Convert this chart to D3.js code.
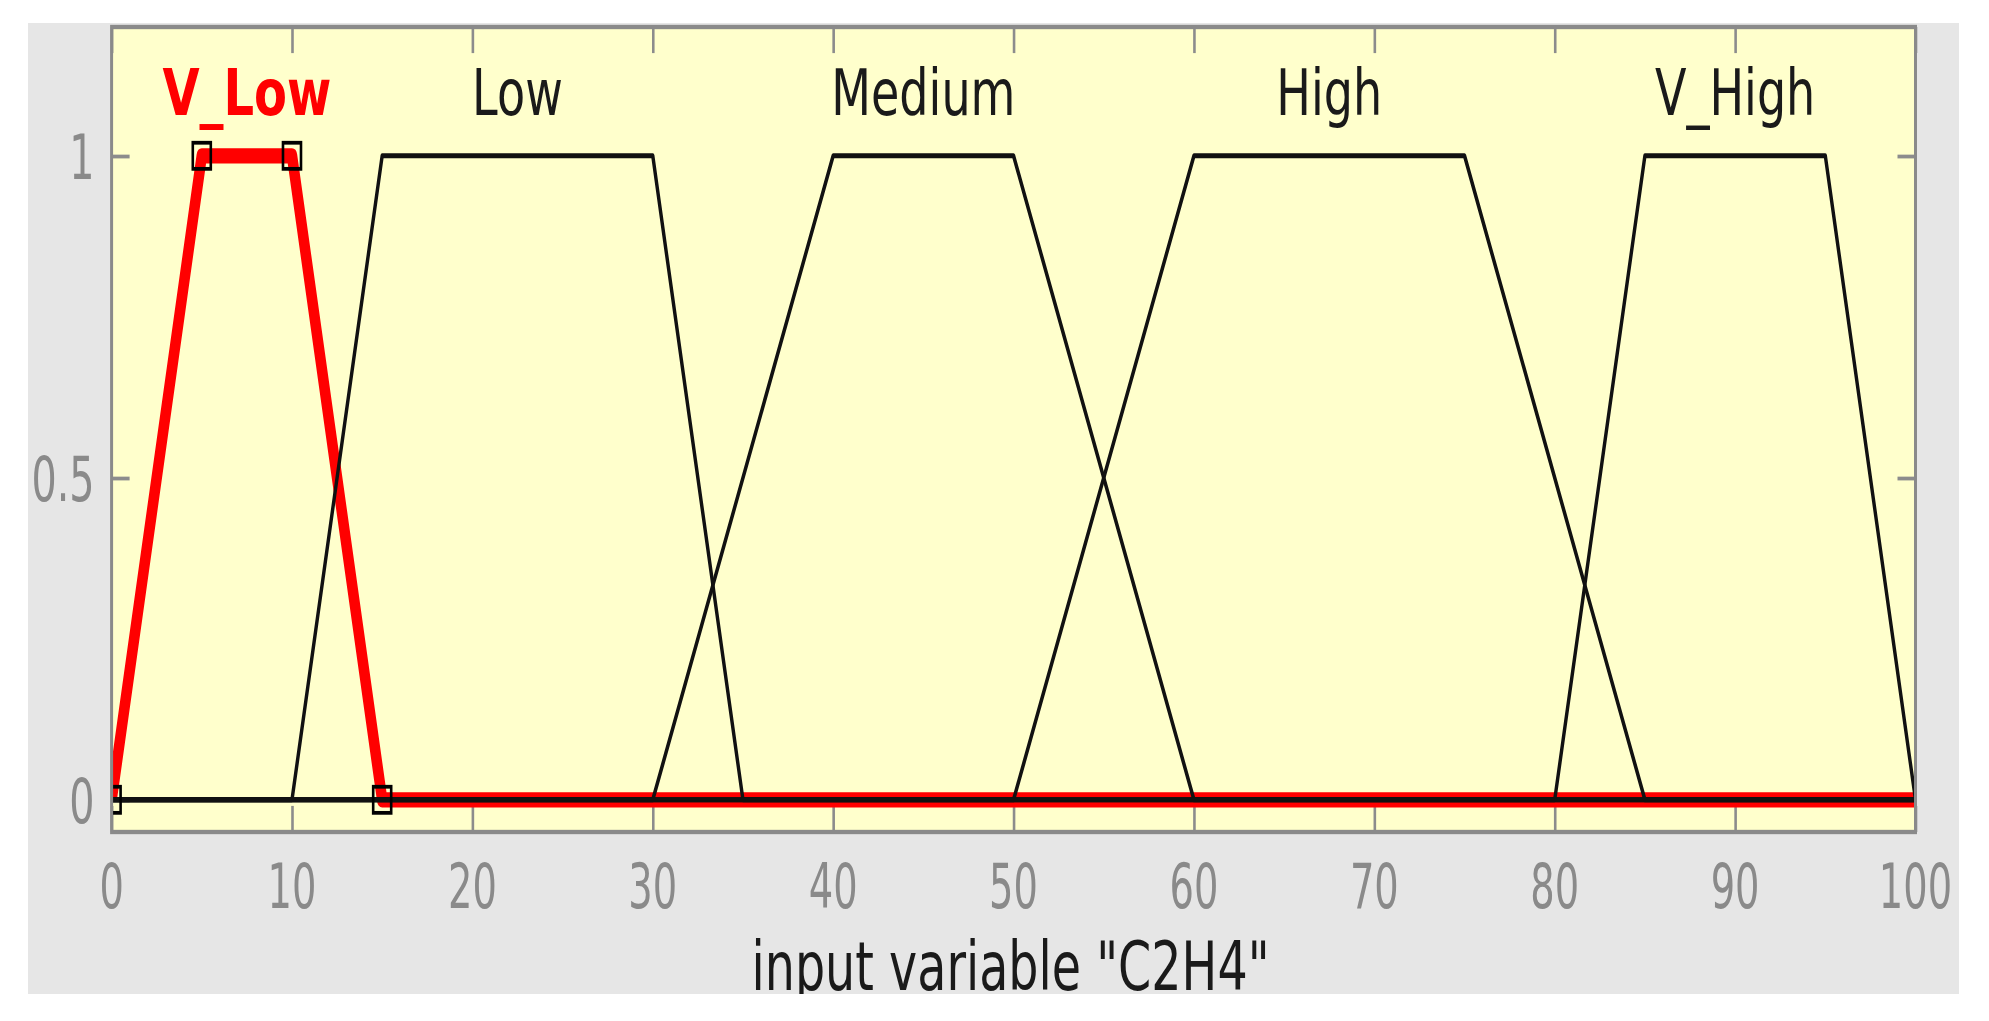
<!DOCTYPE html>
<html><head><meta charset="utf-8">
<script src="https://cdn.jsdelivr.net/npm/d3@7"></script>
<style>html,body{margin:0;padding:0;background:#fff;} svg{display:block;}</style>
</head><body>
<svg id="chart" width="1989" height="1021"></svg>
<script>
// ---- data ----
const mfNames = ["V_Low", "Low", "Medium", "High", "V_High"];
const mfParams = [[0, 5, 10, 15], [10, 15, 30, 35], [30, 40, 50, 60], [50, 60, 75, 85], [80, 85, 95, 100]];
const selectedMF = "V_Low";
const xTicks = [0, 10, 20, 30, 40, 50, 60, 70, 80, 90, 100];
const xTickLabels = ["0", "10", "20", "30", "40", "50", "60", "70", "80", "90", "100"];
const yTicks = [0, 0.5, 1];
const yTickLabels = ["0", "0.5", "1"];
const xDomain = [0, 100];
const yDomain = [-0.05, 1.2];
const xLabel = 'input variable "C2H4"';

// ---- layout ----
const W = 1989, H = 1021;
const S = 1.45; // vertical stretch of the original picture
const plot = {left: 111.6, right: 1915.5, top: 27, bottom: 832};
const panel = {x: 28, y: 23, w: 1931, h: 971};

const svg = d3.select("#chart");
const defs = svg.append("defs");
defs.append("clipPath").attr("id", "panelClip").append("rect")
  .attr("x", panel.x).attr("y", panel.y).attr("width", panel.w).attr("height", panel.h);

svg.append("rect").attr("width", W).attr("height", H).attr("fill", "#ffffff");
svg.append("rect").attr("x", panel.x).attr("y", panel.y).attr("width", panel.w).attr("height", panel.h).attr("fill", "#e6e6e6");

const x = d3.scaleLinear().domain(xDomain).range([plot.left, plot.right]);
const y = d3.scaleLinear().domain(yDomain).range([plot.bottom, plot.top]);          // screen units
const yi = d3.scaleLinear().domain(yDomain).range([plot.bottom / S, plot.top / S]); // inside stretched group

const g = svg.append("g").attr("transform", `scale(1,${S})`);
g.append("clipPath").attr("id", "plotClip").append("rect")
  .attr("x", plot.left).attr("y", plot.top / S)
  .attr("width", plot.right - plot.left).attr("height", (plot.bottom - plot.top) / S);

g.append("rect")
  .attr("x", plot.left).attr("y", plot.top / S)
  .attr("width", plot.right - plot.left).attr("height", (plot.bottom - plot.top) / S)
  .attr("fill", "#ffffcc");

// ticks (inward, box on)
const tickLen = 18;
function styleAxis(sel) {
  sel.select(".domain").remove();
  sel.selectAll(".tick line").attr("stroke", "#8c8c8c").attr("stroke-width", 2.6);
  sel.selectAll(".tick text").remove();
}
g.append("g").attr("transform", `translate(0,${plot.bottom / S})`)
  .call(d3.axisBottom(x).tickValues(xTicks).tickSize(-tickLen).tickFormat("")).call(styleAxis);
g.append("g").attr("transform", `translate(0,${plot.top / S})`)
  .call(d3.axisTop(x).tickValues(xTicks).tickSize(-tickLen).tickFormat("")).call(styleAxis);
g.append("g").attr("transform", `translate(${plot.left},0)`)
  .call(d3.axisLeft(yi).tickValues(yTicks).tickSize(-tickLen).tickFormat("")).call(styleAxis);
g.append("g").attr("transform", `translate(${plot.right},0)`)
  .call(d3.axisRight(yi).tickValues(yTicks).tickSize(-tickLen).tickFormat("")).call(styleAxis);

// membership functions
const mfData = mfNames.map((n, i) => {
  const [a, b, c, d] = mfParams[i];
  return {name: n, params: mfParams[i],
    pts: [[xDomain[0], 0], [a, 0], [b, 1], [c, 1], [d, 0], [xDomain[1], 0]]};
});
const line = d3.line().x(d => x(d[0])).y(d => yi(d[1]));
const lines = g.append("g").attr("clip-path", "url(#plotClip)");
const order = mfData.filter(d => d.name === selectedMF).concat(mfData.filter(d => d.name !== selectedMF));
lines.selectAll("path").data(order).join("path")
  .attr("d", d => line(d.pts))
  .attr("fill", "none")
  .attr("stroke", d => d.name === selectedMF ? "#ff0000" : "#111111")
  .attr("stroke-width", d => d.name === selectedMF ? 10.5 : 3.4)
  .attr("stroke-linejoin", "round");

// markers at selected MF vertices
const sel = mfData.find(d => d.name === selectedMF);
const [sa, sb, sc, sd] = sel.params;
const markerPts = [[sa, 0], [sb, 1], [sc, 1], [sd, 0]];
const ms = 18;
lines.selectAll("rect.mk").data(markerPts).join("rect").attr("class", "mk")
  .attr("x", d => x(d[0]) - ms / 2).attr("y", d => yi(d[1]) - ms / 2)
  .attr("width", ms).attr("height", ms)
  .attr("fill", "none").attr("stroke", "#000").attr("stroke-width", 2.6);

// frame
g.append("rect")
  .attr("x", plot.left).attr("y", plot.top / S)
  .attr("width", plot.right - plot.left).attr("height", (plot.bottom - plot.top) / S)
  .attr("fill", "none").attr("stroke", "#8a8a8a").attr("stroke-width", 3);

// ---- texts (stretched glyphs like the original) ----
function addText(parent, tx, ty, str, opts) {
  return parent.append("text")
    .attr("transform", `translate(${tx},${ty}) scale(${opts.kx},1)`)
    .attr("text-anchor", opts.anchor || "middle")
    .attr("font-family", "DejaVu Sans")
    .attr("font-size", opts.size)
    .attr("font-weight", opts.weight || "normal")
    .attr("fill", opts.fill)
    .text(str);
}
const txt = svg.append("g").attr("clip-path", "url(#panelClip)");
xTicks.forEach((v, i) => addText(txt, x(v), plot.bottom + 76, xTickLabels[i],
  {kx: 0.61, size: 63, fill: "#8a8a8a"}));
yTicks.forEach((v, i) => addText(txt, plot.left - 17, y(v) + 23, yTickLabels[i],
  {kx: 0.63, size: 63, fill: "#8a8a8a", anchor: "end"}));
mfData.forEach(d => {
  const [a, b, c, dd] = d.params;
  const isSel = d.name === selectedMF;
  addText(txt, x((b + c) / 2), y(yDomain[1]) + 88, d.name,
    {kx: isSel ? 0.75 : 0.72, size: 64, fill: isSel ? "#ff0000" : "#1a1a1a", weight: isSel ? "bold" : "normal"});
});
addText(txt, (plot.left + plot.right) / 2 - 3, 990, xLabel, {kx: 0.70, size: 68, fill: "#1a1a1a"});
</script>
</body></html>
